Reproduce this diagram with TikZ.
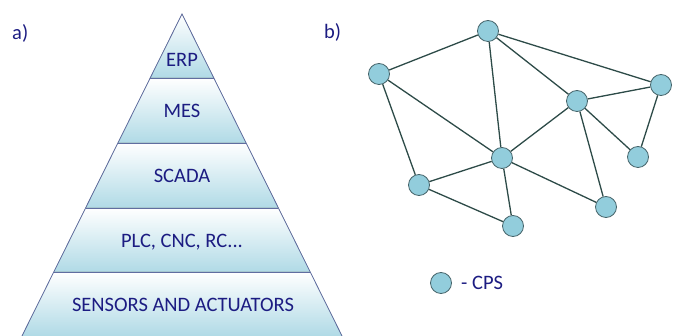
\documentclass[tikz,border=0pt]{standalone}
\usepackage{fontspec}
\setmainfont{Carlito}
\definecolor{labelblue}{RGB}{28,28,130}
\definecolor{bandblue}{RGB}{176,218,230}
\definecolor{rimline}{RGB}{96,110,160}
\definecolor{cpsfill}{RGB}{146,205,220}
\definecolor{cpsrim}{RGB}{70,100,106}
\definecolor{linkcol}{RGB}{45,75,72}
\tikzset{
  lvltext/.style={text=labelblue, font=\fontsize{20.5}{22}\selectfont, inner sep=0pt},
  tag/.style={text=labelblue, font=\fontsize{20.5}{22}\selectfont, inner sep=0pt},
  cps/.style={circle, draw=cpsrim, fill=cpsfill, line width=0.8pt, minimum size=21pt, inner sep=0pt},
  link/.style={draw=linkcol, line width=1.3pt},
  band/.style={top color=white, bottom color=bandblue, draw=none},
}
\begin{document}
\begin{tikzpicture}[x=1pt,y=-1pt]
\useasboundingbox (0,0) rectangle (675,336);

% ---------- a) automation pyramid ----------
% left/right edge points of each level boundary (slope 0.497 per unit height)
\foreach \n/\y in {0/14,1/78,2/143,3/208,4/272,5/336}{
  \coordinate (L\n) at ({182-0.497*(\y-14)},\y);
  \coordinate (R\n) at ({182+0.497*(\y-14)},\y);
}
\fill[band] (L0) -- (L1) -- (R1) -- cycle;
\fill[band] (L1) -- (L2) -- (R2) -- (R1) -- cycle;
\fill[band] (L2) -- (L3) -- (R3) -- (R2) -- cycle;
\fill[band] (L3) -- (L4) -- (R4) -- (R3) -- cycle;
\fill[band] (L4) -- (L5) -- (R5) -- (R4) -- cycle;
\draw[rimline, line width=0.8pt] (L5) -- (L0) -- (R5);
\foreach \n in {1,2,3,4}{ \draw[rimline, line width=0.8pt] (L\n) -- (R\n); }

\node[lvltext] (erp) at (182,60) {ERP};
\node[lvltext] (mes) at (182,111) {MES};
\node[lvltext] (scada) at (182,176) {SCADA};
\node[lvltext] (plc) at (182,242) {PLC, CNC, RC...};
\node[lvltext] (sens) at (183,305) {SENSORS AND ACTUATORS};

\node[tag, anchor=west] (taga) at (12,33) {a)};
\node[tag, anchor=west] (tagb) at (324,32) {b)};

% ---------- b) network of CPS ----------
\node[cps] (n1) at (488,31) {};
\node[cps] (n2) at (379,74) {};
\node[cps] (n3) at (661,85) {};
\node[cps] (n4) at (577,101) {};
\node[cps] (n5) at (502,158) {};
\node[cps] (n6) at (638,157) {};
\node[cps] (n7) at (419,185) {};
\node[cps] (n8) at (606,207) {};
\node[cps] (n9) at (513,226) {};

\foreach \a/\b in {n1/n2,n1/n5,n1/n4,n1/n3,n2/n5,n2/n7,n4/n3,n4/n5,n4/n6,n4/n8,n3/n6,n5/n7,n5/n9,n5/n8,n7/n9}{
  \draw[link] (\a) -- (\b);
}

% legend
\node[cps] (key) at (441,283) {};
\node[tag, anchor=west] (keytext) at (461,283) {- CPS};
\end{tikzpicture}
\end{document}
